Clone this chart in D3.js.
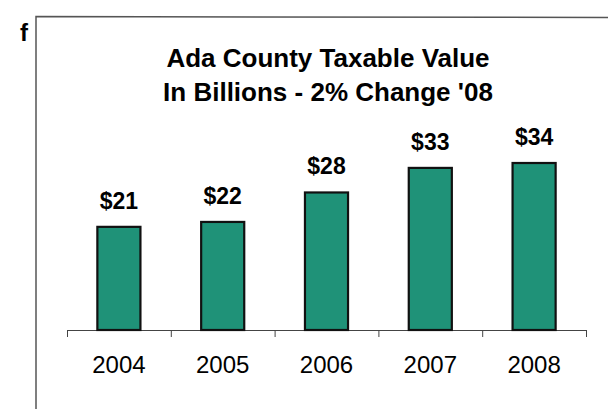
<!DOCTYPE html>
<html>
<head>
<meta charset="utf-8">
<script src="https://cdn.jsdelivr.net/npm/d3@7"></script>
<style>
  html, body { margin: 0; padding: 0; background: #fff; }
  svg { display: block; font-family: "Liberation Sans", Arial, sans-serif; }
</style>
</head>
<body>
<div id="CHART"></div>
<script>
const years = ['2004', '2005', '2006', '2007', '2008'];
const values = [21, 22, 28, 33, 34];
const valueLabels = ['$21', '$22', '$28', '$33', '$34'];
const titleLines = ['Ada County Taxable Value', "In Billions - 2% Change '08"];

const width = 608;
const height = 409;
const margin = {top: 163, right: 22, bottom: 79, left: 67};

const svg = d3.select('#CHART')
  .append('svg')
  .attr('width', width)
  .attr('height', height);

// scanned page frame
svg.append('path')
  .attr('d', `M36,${height} L36,16.5 L${width},17.5`)
  .attr('fill', 'none')
  .attr('stroke', '#555')
  .attr('stroke-width', 1.5);

svg.append('text')
  .attr('x', 20)
  .attr('y', 41)
  .attr('font-size', 24)
  .attr('font-weight', 'bold')
  .text('f');

const x = d3.scaleBand()
  .domain(years)
  .range([margin.left, width - margin.right])
  .paddingInner(0.585)
  .paddingOuter(0.2925);

const y = d3.scaleLinear()
  .domain([0, 34])
  .range([height - margin.bottom, margin.top]);

svg.append('g')
  .selectAll('text')
  .data(titleLines)
  .join('text')
  .attr('x', 328)
  .attr('y', (d, i) => 67 + i * 34)
  .attr('text-anchor', 'middle')
  .attr('font-size', 26)
  .attr('font-weight', 'bold')
  .text(d => d);

// category axis: ticks at band boundaries
const axisY = height - margin.bottom;
const axis = svg.append('g').attr('stroke', '#444').attr('stroke-width', 1);
axis.append('line')
  .attr('x1', margin.left).attr('x2', width - margin.right)
  .attr('y1', axisY + 0.5).attr('y2', axisY + 0.5);
const bounds = d3.range(years.length + 1).map(i => margin.left + i * x.step());
axis.selectAll('.tick')
  .data(bounds)
  .join('line')
  .attr('class', 'tick')
  .attr('x1', d => d + 0.5).attr('x2', d => d + 0.5)
  .attr('y1', axisY).attr('y2', axisY + 7);

svg.append('g')
  .selectAll('rect')
  .data(values)
  .join('rect')
  .attr('x', (d, i) => x(years[i]))
  .attr('y', d => y(d))
  .attr('width', x.bandwidth())
  .attr('height', d => y(0) - y(d))
  .attr('fill', '#1f9278')
  .attr('stroke', '#111')
  .attr('stroke-width', 2.2);

svg.append('g')
  .selectAll('text')
  .data(values)
  .join('text')
  .attr('x', (d, i) => x(years[i]) + x.bandwidth() / 2)
  .attr('y', d => y(d) - 18)
  .attr('text-anchor', 'middle')
  .attr('font-size', 23)
  .attr('font-weight', 'bold')
  .text((d, i) => valueLabels[i]);

svg.append('g')
  .selectAll('text')
  .data(years)
  .join('text')
  .attr('x', d => x(d) + x.bandwidth() / 2)
  .attr('y', 373)
  .attr('text-anchor', 'middle')
  .attr('font-size', 24)
  .text(d => d);
</script>
</body>
</html>
